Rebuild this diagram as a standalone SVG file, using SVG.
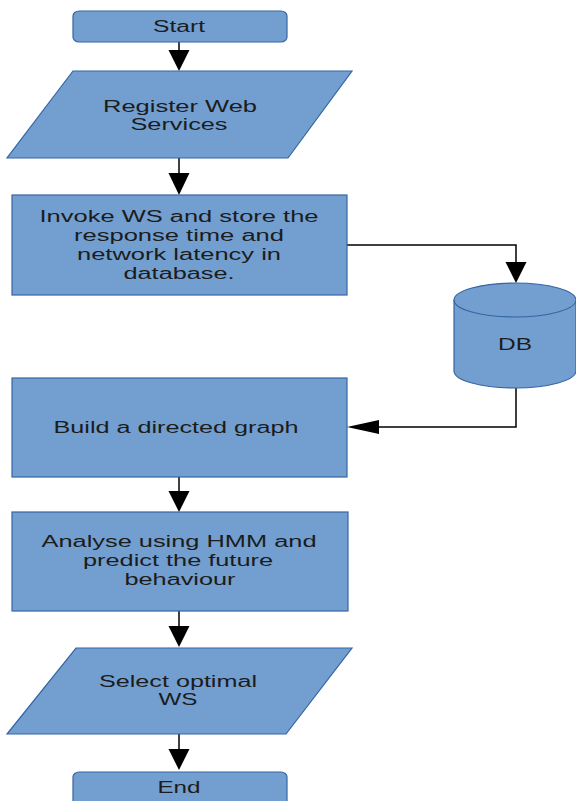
<svg xmlns="http://www.w3.org/2000/svg" width="576" height="801" viewBox="0 0 576 801">
<style>
.shape{fill:#729fcf;stroke:#3465a4;stroke-width:1.2}
.t{font-family:"Liberation Sans",Arial,sans-serif;font-size:16px;fill:#1c1c1c;text-anchor:middle}
.line{fill:none;stroke:#000;stroke-width:1.5}
.head{fill:#000;stroke:none}
</style>
<rect width="576" height="801" fill="#fff"/>
<g id="connectors">
<line class="line" x1="179" y1="42" x2="179" y2="52"/>
<polygon class="head" points="168.5,50 189.5,50 179,71"/>
<line class="line" x1="179" y1="158" x2="179" y2="174"/>
<polygon class="head" points="168.5,173 189.5,173 179,195"/>
<polyline class="line" points="347,245 516,245 516,264"/>
<polygon class="head" points="505.5,262 526.5,262 516,283"/>
<polyline class="line" points="516,388 516,427 378,427"/>
<polygon class="head" points="379,420 379,434 347,427"/>
<line class="line" x1="179" y1="477" x2="179" y2="492"/>
<polygon class="head" points="168.5,491 189.5,491 179,512"/>
<line class="line" x1="179" y1="611" x2="179" y2="628"/>
<polygon class="head" points="168.5,626 189.5,626 179,647"/>
<line class="line" x1="179" y1="734" x2="179" y2="751"/>
<polygon class="head" points="168.5,749 189.5,749 179,770"/>
</g>
<g id="start">
<rect class="shape" x="73" y="11" width="214" height="31" rx="6" ry="5"/>
<text class="t" x="179" y="32" textLength="52" lengthAdjust="spacingAndGlyphs">Start</text>
</g>
<g id="register">
<polygon class="shape" points="73,71 352,71 288,158 7,158"/>
<text class="t" x="180" y="112" textLength="154" lengthAdjust="spacingAndGlyphs">Register Web</text>
<text class="t" x="179" y="130" textLength="97" lengthAdjust="spacingAndGlyphs">Services</text>
</g>
<g id="invoke">
<rect class="shape" x="12" y="195" width="335" height="100"/>
<text class="t" x="179" y="222" textLength="279" lengthAdjust="spacingAndGlyphs">Invoke WS and store the</text>
<text class="t" x="179" y="241" textLength="210" lengthAdjust="spacingAndGlyphs">response time and</text>
<text class="t" x="179" y="260" textLength="204" lengthAdjust="spacingAndGlyphs">network latency in</text>
<text class="t" x="179" y="279" textLength="111" lengthAdjust="spacingAndGlyphs">database.</text>
</g>
<g id="db">
<path class="shape" d="M454,300 L454,371 A61,17 0 0 0 576,371 L576,300 A61,17 0 0 0 454,300 Z"/>
<path class="shape" d="M454,300 A61,17 0 0 0 576,300" fill="none"/>
<text class="t" x="515" y="350" textLength="34" lengthAdjust="spacingAndGlyphs">DB</text>
</g>
<g id="build">
<rect class="shape" x="12" y="378" width="335" height="99"/>
<text class="t" x="176" y="433" textLength="245" lengthAdjust="spacingAndGlyphs">Build a directed graph</text>
</g>
<g id="analyse">
<rect class="shape" x="12" y="512" width="336" height="99"/>
<text class="t" x="179" y="547" textLength="275" lengthAdjust="spacingAndGlyphs">Analyse using HMM and</text>
<text class="t" x="178" y="566" textLength="190" lengthAdjust="spacingAndGlyphs">predict the future</text>
<text class="t" x="180" y="585" textLength="111" lengthAdjust="spacingAndGlyphs">behaviour</text>
</g>
<g id="select">
<polygon class="shape" points="76,648 352,648 286,734 7,734"/>
<text class="t" x="178" y="687" textLength="158" lengthAdjust="spacingAndGlyphs">Select optimal</text>
<text class="t" x="178" y="705" textLength="39" lengthAdjust="spacingAndGlyphs">WS</text>
</g>
<g id="end">
<rect class="shape" x="73" y="772" width="214" height="34" rx="6" ry="5"/>
<text class="t" x="179" y="793" textLength="43" lengthAdjust="spacingAndGlyphs">End</text>
</g>
</svg>
